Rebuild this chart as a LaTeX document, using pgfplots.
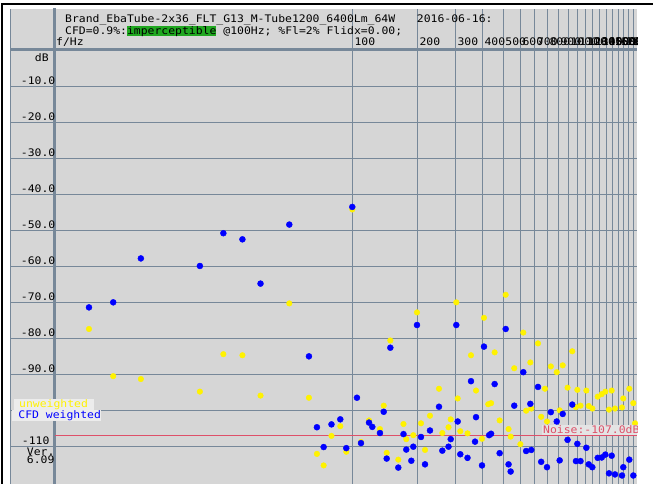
\documentclass[border=0pt]{standalone}
\usepackage{pgfplots}
\usepackage{pgfplotstable}
\pgfplotsset{compat=1.18}
\usepackage{fontspec}
\usepackage{graphicx}
\newfontfamily\mono{DejaVu Sans Mono}
\definecolor{bgc}{RGB}{214,214,214}
\definecolor{gridc}{RGB}{119,136,153}
\definecolor{noisec}{RGB}{222,80,105}
\definecolor{noisebg}{RGB}{228,228,228}
\definecolor{legbg}{RGB}{236,236,236}
\definecolor{okgreen}{RGB}{32,168,32}
\newcommand\T[1]{\scalebox{1.098}[1]{\fontsize{10.4bp}{12bp}\selectfont\mono #1}}

\pgfplotstableread{
f db
6.04 -77.3
7.82 -90.4
10.5 -91.2
19.7 -94.7
25.3 -84.3
31.0 -84.6
37.6 -95.8
51.1 -70.2
63.0 -96.4
68.6 -112.0
73.7 -115.2
80.1 -107.0
88.0 -104.3
93.8 -111.4
100 -44.1
109.7 -108.7
119.5 -102.7
134.3 -105.1
139.8 -98.6
144.3 -111.7
150.0 -80.5
163.3 -113.6
172.6 -103.7
177.8 -107.9
191.6 -106.8
199.3 -72.7
208 -103.5
217.1 -110.9
228.9 -101.4
252 -93.9
261.1 -106.2
278.9 -104.6
285.5 -102.4
303 -69.9
307.6 -96.6
316.2 -105.7
341.5 -106.3
354.4 -84.6
374 -94.4
398.6 -107.8
407 -74.2
426 -98.2
439 -97.9
456 -83.8
481 -102.7
513 -67.8
529 -105.1
541 -107.2
562 -88.2
600 -109.3
619 -78.3
638 -100.0
667 -86.6
674 -99.4
724 -81.3
749 -101.7
780 -93.9
797 -103.0
830 -87.7
884 -89.3
912 -99.9
942 -87.4
992 -93.6
1043 -83.5
1085 -99.0
1101 -94.2
1139 -98.6
1212 -94.4
1243 -98.7
1292 -99.4
1368 -96.1
1428 -95.4
1484 -94.7
1543 -99.7
1588 -94.4
1645 -99.4
1773 -99.1
1797 -96.6
1916 -93.9
2000 -97.9
2037 -103.5
}\unweighted

\pgfplotstableread{
f db
6.04 -71.3
7.82 -69.9
10.5 -57.7
19.7 -59.8
25.3 -50.7
31.0 -52.4
37.6 -64.7
51.1 -48.3
63.0 -84.9
68.6 -104.6
73.7 -110.1
80.1 -103.8
88.0 -102.4
93.8 -110.4
100 -43.4
105.1 -96.4
109.7 -109.0
119.5 -103.3
123.8 -104.5
134.3 -106.2
139.8 -100.3
144.3 -113.3
150.0 -82.5
163.3 -115.8
172.6 -106.5
177.8 -110.8
187.6 -113.9
191.6 -110.0
199.3 -76.2
208 -107.3
217.1 -114.9
228.9 -105.5
252 -98.9
261.1 -111.1
278.9 -110.0
285.5 -107.9
303 -76.2
307.6 -103.0
316.2 -112.1
341.5 -113.1
354.4 -91.8
370 -108.6
374 -101.8
398.6 -115.2
407 -82.2
430 -106.8
439 -106.4
456 -92.6
481 -111.8
513 -77.3
529 -114.9
541 -116.9
562 -98.6
619 -89.3
638 -111.2
667 -98.1
674 -110.9
724 -93.4
749 -114.2
797 -115.7
830 -100.4
884 -103.0
912 -113.8
942 -100.9
992 -108.1
1043 -98.3
1085 -114.0
1101 -109.2
1139 -114.0
1212 -110.3
1243 -114.9
1292 -115.7
1368 -113.1
1428 -113.0
1484 -112.2
1543 -117.4
1588 -112.5
1645 -117.7
1773 -118.0
1797 -115.7
1916 -113.6
2000 -118.0
2081 -118.0
}\cfdweighted

\begin{document}
\begin{tikzpicture}
\fill[white] (0,0) rectangle (653bp,484bp);
\fill[black] (1bp,0bp) rectangle (3bp,481bp);
\fill[black] (1bp,479bp) rectangle (653bp,481bp);
\begin{axis}[
  at={(10bp,0bp)}, anchor=south west,
  scale only axis, width=627bp, height=475bp,
  xmode=log, xmin=2.6022, xmax=2080.3,
  ymin=-120.36, ymax=11.583,
  axis line style={draw=none},
  axis background/.style={fill=bgc},
  xtick={100,200,300,400,500,600,700,800,900,1000,1100,1200,1300,1400,1500,1600,1700,1800,1900,2000},
  ytick={-110,-100,-90,-80,-70,-60,-50,-40,-30,-20,-10},
  xticklabels={}, yticklabels={},
  major tick length=0pt,
  grid=major,
  grid style={gridc, line width=1bp},
]
\draw[gridc, line width=2.7bp] (axis cs:2.6022,0.3) -- (axis cs:2080.3,0.3);
\draw[gridc, line width=2.5bp] (axis cs:4.18,-125) -- (axis cs:4.18,15);
\draw[noisec, line width=1bp] (axis cs:4.22,-107) -- (axis cs:2080.3,-107);
\addplot[only marks, mark=*, mark size=2.8bp, color=yellow, mark options={draw=yellow, fill=yellow}] table[x=f, y=db] {\unweighted};
\addplot[only marks, mark=*, mark size=3bp, color=blue, mark options={draw=blue, fill=blue}] table[x=f, y=db] {\cfdweighted};
\end{axis}
\begin{scope}[x=1bp, y=1bp]
\draw[gridc, line width=1bp] (10.5,0) -- (10.5,475);
% header
\node[anchor=base west, inner sep=0] at (65,461.3) {\T{Brand\_EbaTube-2x36\_FLT\_G13\_M-Tube1200\_6400Lm\_64W}};
\node[anchor=base west, inner sep=0] at (416.7,461.3) {\T{2016-06-16:}};
\fill[okgreen] (126.9,448) rectangle (216.3,458);
\node[anchor=base west, inner sep=0] at (65,449.3) {\T{CFD=0.9\%:}};
\node[anchor=base west, inner sep=0] at (126.9,449.3) {\T{imperceptible}};
\node[anchor=base west, inner sep=0] at (223.2,449.3) {\T{@100Hz; \%Fl=2\% Flidx=0.00;}};
\node[anchor=base west, inner sep=0] at (56,438.5) {\T{f/Hz}};
\begin{scope}
\clip (10,0) rectangle (637,475);
\foreach \f in {100,200,...,2000}
  \node[anchor=base west, inner sep=0] at ({354.3+216*log10(\f/100)},438.5) {\T{\f}};
\fill[noisebg] (541.7,48.7) rectangle (645,59);
\node[anchor=base west, inner sep=0] at (543,50.4) {\color{noisec}\T{Noise:-107.0dB}};
\end{scope}
% y labels
\node[anchor=base west, inner sep=0] at (34.8,422.3) {\T{dB}};
\foreach \k in {1,...,9}
  \node[anchor=base west, inner sep=0] at (20.7,{435.7-36*\k}) {\T{-\k0.0}};
\node[anchor=base west, inner sep=0] at (21.7,39) {\T{-110}};
\node[anchor=base west, inner sep=0] at (26.7,28.3) {\T{Ver.}};
\node[anchor=base west, inner sep=0] at (26.7,20) {\T{6.09}};
% legend
\fill[legbg] (14,74) rectangle (94,85);
\fill[legbg] (12,63) rectangle (101,74);
\node[anchor=base west, inner sep=0] at (19,76) {\color{yellow}\T{unweighted}};
\node[anchor=base west, inner sep=0] at (18.3,65.5) {\color{blue}\T{CFD weighted}};
\pgfresetboundingbox
\useasboundingbox (0,0) rectangle (653,484);
\end{scope}
\end{tikzpicture}
\end{document}
